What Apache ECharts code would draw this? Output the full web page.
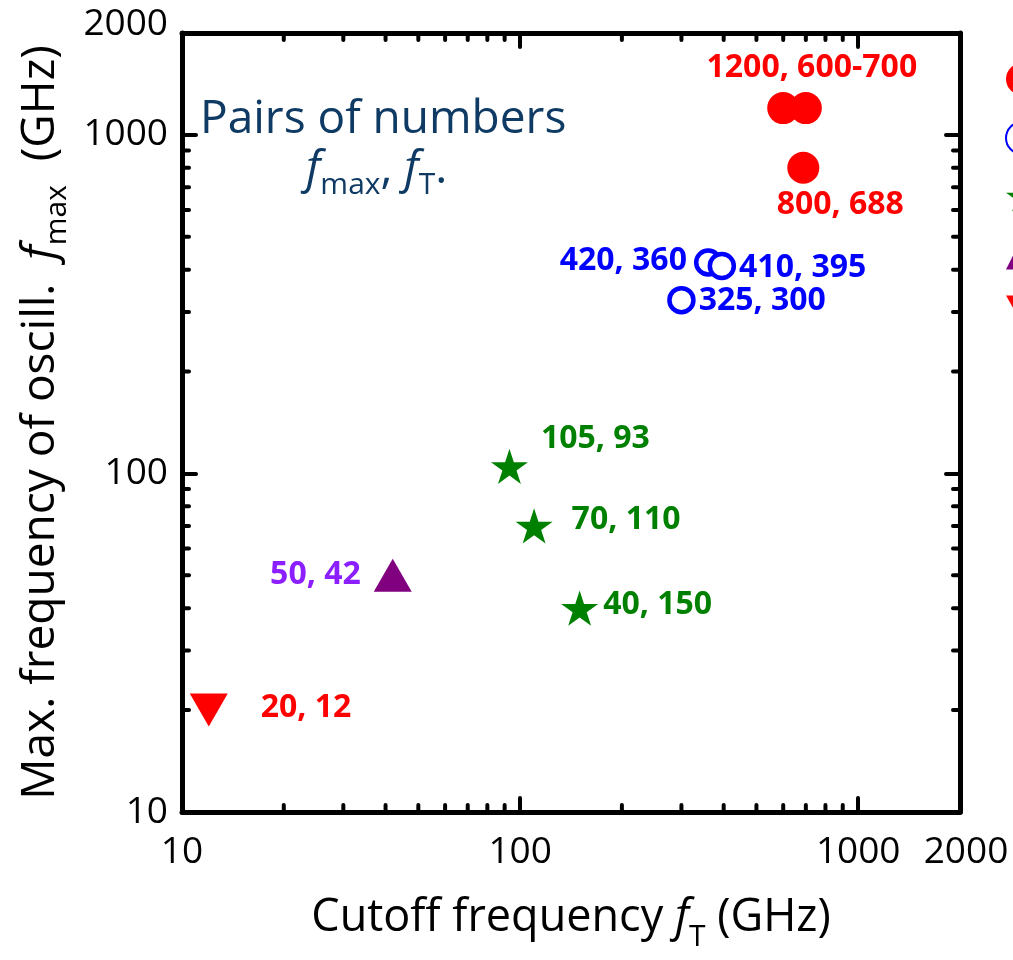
<!DOCTYPE html>
<html><head><meta charset="utf-8">
<script src="https://cdn.jsdelivr.net/npm/echarts@6/dist/echarts.min.js"></script>
<style>html,body{margin:0;padding:0;background:#fff}#c{width:1013px;height:960px}</style>
</head><body><div id="c"></div>
<script>
// ---- data: [fT (GHz), fmax (GHz)] ----
const redCircleFT   = [600, 700, 688];
const redCircleFmax = [1200, 1200, 800];
const redCircleLbl  = ['', '1200, 600-700', '800, 688'];
const blueFT   = [360, 395, 300];
const blueFmax = [420, 410, 325];
const blueLbl  = ['420, 360', '410, 395', '325, 300'];
const greenFT   = [93, 110, 150];
const greenFmax = [105, 70, 40];
const greenLbl  = ['105, 93', '70, 110', '40, 150'];
const purpleFT   = [42];
const purpleFmax = [50];
const purpleLbl  = ['50, 42'];
const downFT   = [12];
const downFmax = [20];
const downLbl  = ['20, 12'];
const seriesNames = ['Series A', 'Series B', 'Series C', 'Series D', 'Series E'];
const axisMin = 10, axisMax = 2000;
const minorTickValues = [20,30,40,50,60,70,80,90,200,300,400,500,600,700,800,900];

const FONT = '"Open Sans", "Noto Sans", sans-serif';
const STAR = 'path://M0,-1L0.2245,-0.309L0.951,-0.309L0.363,0.118L0.588,0.809L0,0.382L-0.588,0.809L-0.363,0.118L-0.951,-0.309L-0.2245,-0.309Z';
const DOWN = 'path://M0,0L2,0L1,1.75Z';

// label placement per point (style only)
const lblPos = {
  red:   [null, {position:'top', offset:[6,-3]}, {position:'bottom', offset:[37,0]}],
  blue:  [{position:'left', offset:[-2,-2]}, {position:'right', offset:[-2,2]}, {position:'right', offset:[-2,1]}],
  green: [{position:'right', offset:[8,-27]}, {position:'right', offset:[14,-6]}, {position:'right', offset:[0,-3]}],
  purple:[{position:'left', offset:[-8,0]}],
  down:  [{position:'right', offset:[28,-2]}]
};

function build(xs, ys, lbls, pos, color) {
  return xs.map((x, i) => {
    const p = pos[i];
    return {
      value: [x, ys[i]],
      label: p ? {show:true, formatter: lbls[i], position:p.position, offset:p.offset,
        color: color, fontFamily: FONT, fontWeight:'bold', fontSize: 32} : {show:false}
    };
  });
}

const logAxisCommon = {
  type:'log', logBase:10, min:axisMin, max:axisMax,
  axisLine:{show:true, onZero:false, lineStyle:{color:'#000', width:5}},
  axisTick:{show:true, inside:true, length:14, lineStyle:{color:'#000', width:4, cap:'round'}},
  splitLine:{show:false}, minorTick:{show:false}, minorSplitLine:{show:false}
};
const labelFmt = v => {
  const r = Math.round(v);
  return r === axisMax ? '{m|' + r + '}' : String(r);
};

const option = {
  backgroundColor:'#fff',
  animation:false,
  grid:{left:182, right:53, top:33, bottom:148, containLabel:false, outerBoundsMode:'none'},
  legend:{
    orient:'vertical', left:1000, top:58, itemGap:26, itemWidth:32, itemHeight:32,
    textStyle:{fontSize:20, color:'#000'}, selectedMode:false,
    data: seriesNames
  },
  xAxis:[
    Object.assign({}, logAxisCommon, {
      position:'bottom',
      axisLabel:{show:true, formatter:labelFmt, fontSize:37, fontFamily:FONT, color:'#000', margin:22,
        rich:{m:{fontSize:37, fontFamily:FONT, color:'#000', padding:[0,0,0,12]}}},
      name:'Cutoff frequency {i|f}{s|T} (GHz)', nameLocation:'middle', nameGap:72,
      nameTextStyle:{fontSize:45, fontFamily:FONT, color:'#000',
        rich:{i:{fontSize:45, fontStyle:'italic', fontFamily:FONT, color:'#000'},
              s:{fontSize:30, fontFamily:FONT, color:'#000', padding:[38,0,0,0]}}}
    }),
    Object.assign({}, logAxisCommon, {position:'top', axisLabel:{show:false}})
  ],
  yAxis:[
    Object.assign({}, logAxisCommon, {
      position:'left',
      axisLabel:{show:true, formatter:labelFmt, fontSize:37, fontFamily:FONT, color:'#000', margin:14,
        rich:{m:{fontSize:37, fontFamily:FONT, color:'#000', padding:[0,0,18,0]}}},
      name:'Max. frequency of oscill.  {i|f}{s|max}  (GHz)', nameLocation:'middle', nameGap:108, nameRotate:90,
      nameTextStyle:{fontSize:46, fontFamily:FONT, color:'#000',
        rich:{i:{fontSize:46, fontStyle:'italic', fontFamily:FONT, color:'#000'},
              s:{fontSize:30, fontFamily:FONT, color:'#000', padding:[34,0,0,0]}}}
    }),
    Object.assign({}, logAxisCommon, {position:'right', axisLabel:{show:false}})
  ],
  graphic:[
    {type:'text', left:200, top:97, style:{text:'Pairs of numbers', font:'46px ' + FONT, fill:'#0E3A63'}},
    {type:'text', left:306, top:147, style:{
      text:'{i|f}{s|max}{n|, }{i|f}{s|T}{n|.}',
      rich:{
        i:{font:'italic 46px ' + FONT, fill:'#0E3A63'},
        n:{font:'46px ' + FONT, fill:'#0E3A63'},
        s:{font:'30px ' + FONT, fill:'#0E3A63', padding:[30,0,0,0]}
      }}}
  ],
  series:[
    {
      name:seriesNames[0], type:'scatter', symbol:'circle', symbolSize:32,
      itemStyle:{color:'#FF0000', opacity:1},
      data: build(redCircleFT, redCircleFmax, redCircleLbl, lblPos.red, '#FF0000')
    },
    {
      name:seriesNames[1], type:'scatter', symbol:'circle', symbolSize:24,
      itemStyle:{color:'#fff', borderColor:'#0000FF', borderWidth:4.5, opacity:1},
      data: build(blueFT, blueFmax, blueLbl, lblPos.blue, '#0000FF')
    },
    {
      name:seriesNames[2], type:'scatter', symbol:STAR, symbolSize:37, symbolKeepAspect:true,
      itemStyle:{color:'#008000', opacity:1},
      data: build(greenFT, greenFmax, greenLbl, lblPos.green, '#008000')
    },
    {
      name:seriesNames[3], type:'scatter', symbol:'triangle', symbolSize:[38,33],
      itemStyle:{color:'#800080', opacity:1},
      data: build(purpleFT, purpleFmax, purpleLbl, lblPos.purple, '#8B1FFF')
    },
    {
      name:seriesNames[4], type:'scatter', symbol:DOWN, symbolSize:[38,33],
      itemStyle:{color:'#FF0000', opacity:1},
      data: build(downFT, downFmax, downLbl, lblPos.down, '#FF0000')
    },
    {
      type:'custom', silent:true, clip:false, z:5,
      data: minorTickValues.map(v => [v, v]),
      renderItem: function(params, api) {
        const v = api.value(0);
        const L = 7;
        const b = api.coord([v, axisMin]), t = api.coord([v, axisMax]);
        const l = api.coord([axisMin, v]), r = api.coord([axisMax, v]);
        const st = {stroke:'#000', lineWidth:4, lineCap:'round'};
        return {type:'group', children:[
          {type:'line', shape:{x1:b[0], y1:b[1], x2:b[0], y2:b[1]-L}, style:st},
          {type:'line', shape:{x1:t[0], y1:t[1], x2:t[0], y2:t[1]+L}, style:st},
          {type:'line', shape:{x1:l[0], y1:l[1], x2:l[0]+L, y2:l[1]}, style:st},
          {type:'line', shape:{x1:r[0], y1:r[1], x2:r[0]-L, y2:r[1]}, style:st}
        ]};
      }
    }
  ]
};
const chart = echarts.init(document.getElementById('c'), null, {renderer:'canvas'});
chart.setOption(option);
</script></body></html>
